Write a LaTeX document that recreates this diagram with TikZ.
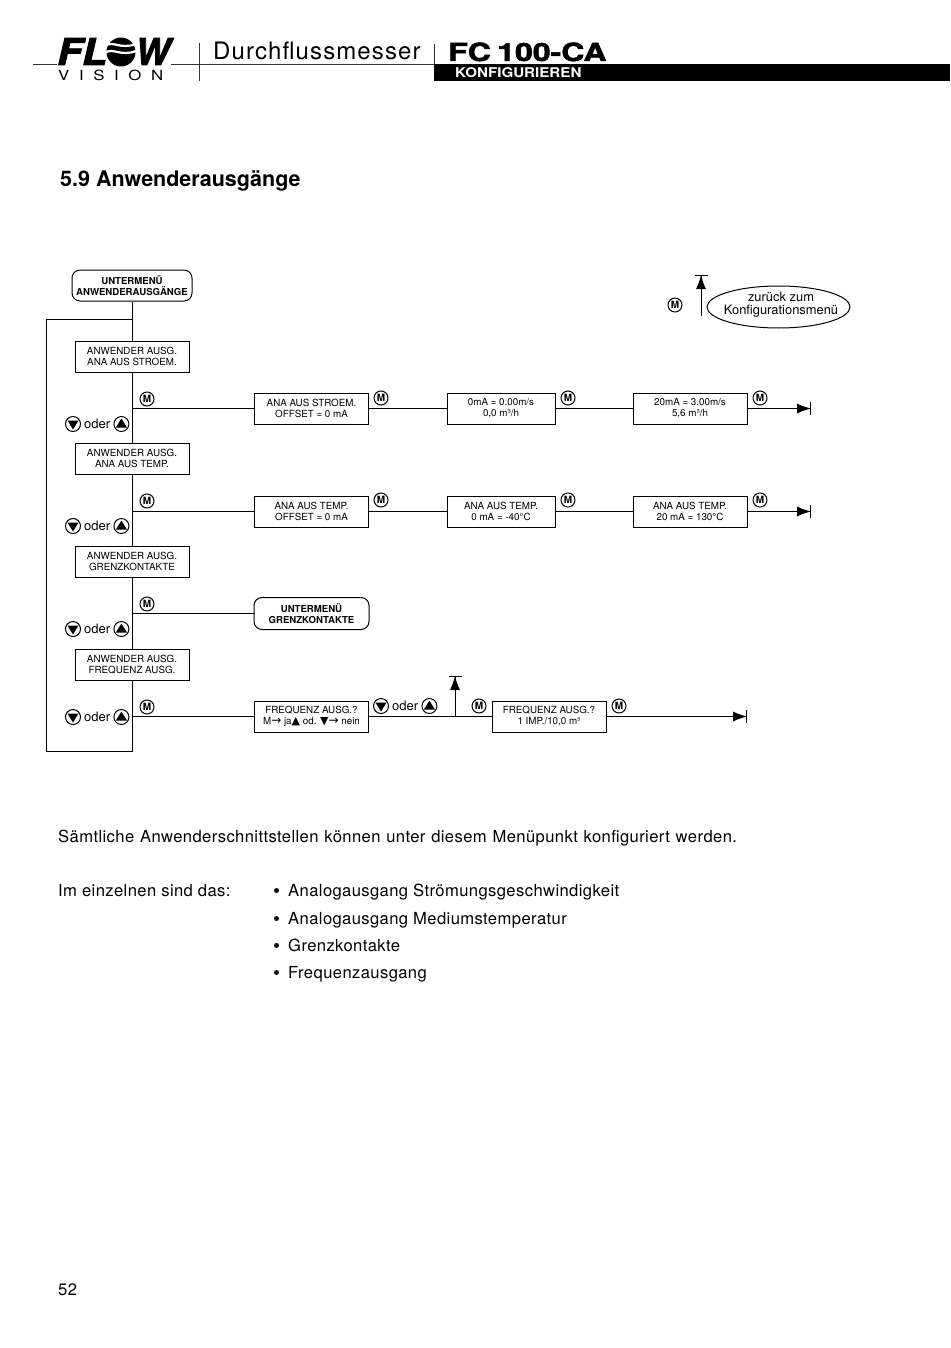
\documentclass[tikz,border=0pt]{standalone}
\usepackage{fontspec}
\setmainfont{TeX Gyre Heros}
\newfontfamily\symfont{DejaVu Sans}
\newfontfamily\bodyfont[LetterSpace=2.4]{TeX Gyre Heros}
\newfontfamily\titlefont[LetterSpace=4.6]{TeX Gyre Heros}
\newfontfamily\heavyfont[BoldFeatures={FakeBold=2},BoldItalicFeatures={FakeBold=2.5}]{TeX Gyre Heros}
\usetikzlibrary{positioning,arrows.meta,shapes.geometric}
\tikzset{
  menubox/.style={draw,line width=1pt,minimum width=114,minimum height=31,inner sep=0pt,align=center,font=\fontsize{9.8}{10.9}\selectfont},
  subbox/.style={menubox,rounded corners=8pt,font=\fontsize{9.6}{11.2}\selectfont\bfseries},
  mbtn/.style={circle,draw,line width=1pt,minimum size=14,inner sep=0pt,font=\fontsize{10}{10}\selectfont\bfseries},
  downbtn/.style={circle,draw,line width=1pt,minimum size=15,inner sep=0pt,
    path picture={\fill ([xshift=-5.5pt,yshift=3.5pt]path picture bounding box.center) -- ++(11pt,0) -- ++(-5.5pt,-9pt) -- cycle;}},
  upbtn/.style={circle,draw,line width=1pt,minimum size=15,inner sep=0pt,
    path picture={\fill ([xshift=-5.5pt,yshift=-3.5pt]path picture bounding box.center) -- ++(11pt,0) -- ++(-5.5pt,9pt) -- cycle;}},
  oder/.style={inner sep=0pt,font=\fontsize{13}{14}\selectfont},
  line/.style={line width=1pt},
  back/.style={line width=1pt,-{Latex[length=14pt,width=10pt,sep=-1pt]Bar[width=13pt]}},
  bodytext/.style={anchor=base west,inner sep=0pt,font=\fontsize{16.6}{18}\bodyfont}
}
\newcommand{\tria}{{\symfont\fontsize{11}{9}\selectfont ▲}}
\newcommand{\trib}{{\symfont\fontsize{11}{9}\selectfont ▼}}
\newcommand{\pfeil}{{\symfont\fontsize{12}{9}\selectfont →}}
\begin{document}
\begin{tikzpicture}[x=1pt,y=-1pt]
  \useasboundingbox (0,0) rectangle (950,1348);
  % Kopf
  \draw[line width=0.7pt,black!80] (33,64) -- (57,64) (171,64) -- (434,64);
  \draw[line width=0.7pt,black!80] (199,43) -- (199,81) (434,44) -- (434,64);
  \node[anchor=base west,inner sep=0pt,xscale=1.1,transform shape,font=\fontsize{37}{37}\heavyfont\bfseries\itshape] (logoFL) at (57,65) {FL};
  \node[anchor=base west,inner sep=0pt,transform shape,font=\fontsize{37}{37}\heavyfont\bfseries\itshape] (logoW) at (135,65) {W};
  % Logo O
  \fill (121,52) circle (14.5);
  \draw[white,line width=2.2pt] (105,46) .. controls (113,40) and (120,50) .. (136,44);
  \draw[white,line width=2.2pt] (105,53) .. controls (113,47) and (120,57) .. (136,51);
  \node[anchor=base west,inner sep=0pt,xscale=1.2,transform shape,font=\fontsize{14}{14}\selectfont] (logoV) at (58,81) {V\hspace{8pt}I\hspace{8pt}S\hspace{8pt}I\hspace{8pt}O\hspace{8pt}N};
  \node[anchor=base west,inner sep=0pt,font=\fontsize{24}{24}\titlefont] (titel) at (213,60) {Durchflussmesser};
  \node[anchor=base west,inner sep=0pt,xscale=1.28,transform shape,font=\fontsize{25}{25}\heavyfont\bfseries] (modell) at (448,61) {FC\hspace{-2pt} 100-CA};
  \fill (434,64) rectangle (950,81);
  \node[anchor=base west,inner sep=0pt,white,xscale=1.13,transform shape,font=\fontsize{13.4}{14}\selectfont\bfseries] (konf) at (455,78) {KONFIGURIEREN};
  \node[anchor=base west,inner sep=0pt,font=\fontsize{21.5}{22}\selectfont\bfseries] (head) at (60,187) {5.9 Anwenderausgänge};
  % Legende
  \node[mbtn] (mLeg) at (675,305) {M};
  \coordinate (legA) at (701,316);
  \coordinate (legB) at (701,275);
  \draw[back] (legA) -- (legB);
  \node[inner sep=0pt,align=center,font=\fontsize{12.9}{13.5}\selectfont] (zurueck) at (781,304.5) {zurück zum\\Konfigurationsmenü};
  \draw[line width=1pt] (778.5,307) ellipse (71.5 and 21);
  % Spalte links
  \node[subbox,minimum width=120] (start) at (132,285.5) {UNTERMENÜ\\ANWENDERAUSGÄNGE};
  \node[menubox] (a1) at (132,356.5) {ANWENDER AUSG.\\ANA AUS STROEM.};
  \node[menubox] (a2) at (132,458.5) {ANWENDER AUSG.\\ANA AUS TEMP.};
  \node[menubox] (a3) at (132,561.5) {ANWENDER AUSG.\\GRENZKONTAKTE};
  \node[menubox] (a4) at (132,664.5) {ANWENDER AUSG.\\FREQUENZ AUSG.};
  \coordinate (loopTop) at (132,319);
  \coordinate (loopEnd) at (132,751);
  \draw[line] (start) -- (a1);
  \draw[line] (a1) -- (a2);
  \draw[line] (a2) -- (a3);
  \draw[line] (a3) -- (a4);
  \draw[line] (a4) -- (loopEnd) -| (46,319) -- (loopTop);
  % Zeile 1
  \node[menubox] (b1) at (311.5,408.5) {ANA AUS STROEM.\\OFFSET = 0 mA};
  \node[menubox,minimum width=108] (c1) at (501,408.5) {0mA = 0.00m/s\\0,0 m³/h};
  \node[menubox] (d1) at (690,408.5) {20mA = 3.00m/s\\5,6 m³/h};
  \coordinate (e1) at (811,408.5);
  \draw[line,line width=1.3pt] (132,408.5) -- (b1);
  \draw[line] (b1) -- (c1);
  \draw[line] (c1) -- (d1);
  \draw[back] (d1) -- (e1);
  % Zeile 2
  \node[menubox] (b2) at (311.5,511.5) {ANA AUS TEMP.\\OFFSET = 0 mA};
  \node[menubox,minimum width=108] (c2) at (501,511.5) {ANA AUS TEMP.\\0 mA = -40°C};
  \node[menubox] (d2) at (690,511.5) {ANA AUS TEMP.\\20 mA = 130°C};
  \coordinate (e2) at (811,511.5);
  \draw[line,line width=1.3pt] (132,511.5) -- (b2);
  \draw[line] (b2) -- (c2);
  \draw[line] (c2) -- (d2);
  \draw[back] (d2) -- (e2);
  % Zeile 3
  \node[subbox,minimum width=115,minimum height=32] (b3) at (311.5,613.5) {UNTERMENÜ\\GRENZKONTAKTE};
  \draw[line,line width=1.3pt] (132,613.5) -- (b3);
  % Zeile 4
  \node[menubox] (b4) at (311.5,716.5) {FREQUENZ AUSG.?\\M\pfeil{} ja\tria{} od. \trib\pfeil{} nein};
  \node[menubox] (c4) at (549,716.5) {FREQUENZ AUSG.?\\1 IMP./10,0 m³};
  \coordinate (e4) at (747,716.5);
  \coordinate (up4) at (455,716.5);
  \coordinate (top4) at (455,676);
  \draw[line] (132,716.5) -- (b4);
  \draw[line] (b4) -- (c4);
  \draw[back] (c4) -- (e4);
  \draw[back] (up4) -- (top4);
  % Tasten
  \foreach \n/\x/\y in {m1/147/399,m2/381/398,m3/568/398,m4/760/398,m5/147/501,m6/381/500,m7/568/500,m8/760/500,m9/147/604,m10/147/707,m11/479/706,m12/619/706}
    \node[mbtn] (\n) at (\x,\y) {M};
  \foreach \n/\x/\y in {k1/73/424,k2/73/526,k3/73/629,k4/73/717,k5/381/706} {
    \node[downbtn] (\n d) at (\x,\y) {};
    \node[oder,right=3pt of \n d] (\n o) {oder};
    \node[upbtn,right=3pt of \n o] (\n u) {};
  }
  % Text
  \node[bodytext] (s1) at (58,842) {\spaceskip=5.8pt Sämtliche Anwenderschnittstellen können unter diesem Menüpunkt konfiguriert werden.};
  \node[bodytext] (s2) at (58,896) {Im einzelnen sind das:};
  \foreach \n/\y/\t in {p1/896/Analogausgang Strömungsgeschwindigkeit,p2/924/Analogausgang Mediumstemperatur,p3/951/Grenzkontakte,p4/978/Frequenzausgang} {
    \fill (276.5,\y-5.5) circle (2.5);
    \node[bodytext] (\n) at (288,\y) {\t};
  }
  \node[bodytext] (seite) at (58,1295) {52};
\end{tikzpicture}
\end{document}
